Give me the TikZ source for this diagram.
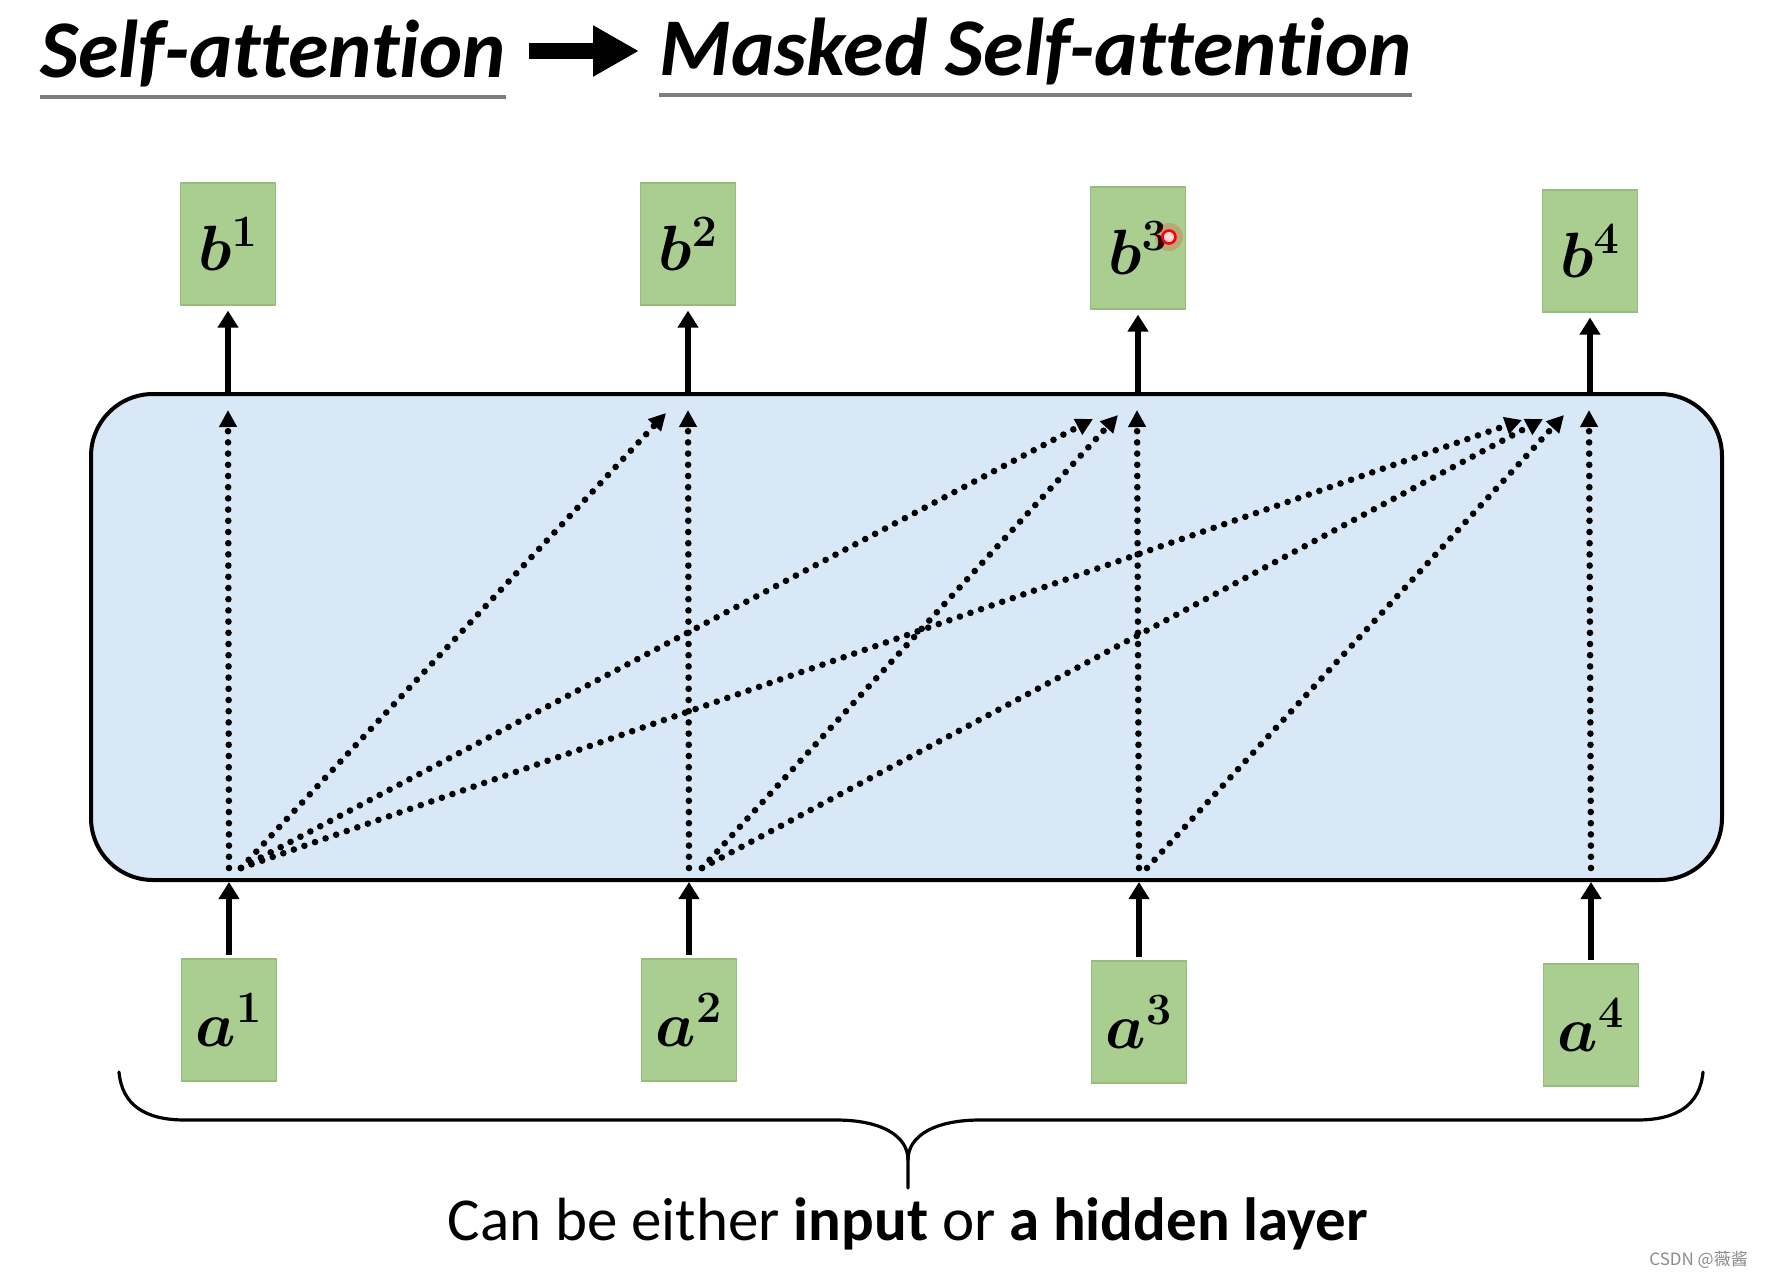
\RequirePackage{fix-cm}
\documentclass[tikz,border=0pt]{standalone}
\usepackage{amsmath,bm}
\usepackage{fontspec}
\newfontfamily\calib[Ligatures={NoCommon}]{Carlito}
\newfontfamily\cjk{Noto Sans CJK SC}
\usetikzlibrary{arrows.meta}
\definecolor{gfill}{RGB}{169,206,143}
\definecolor{gdraw}{RGB}{150,188,126}
\definecolor{bluefill}{RGB}{216,232,246}
\definecolor{ulgray}{RGB}{125,125,125}
\definecolor{wmgray}{RGB}{140,140,140}
\begin{document}
\begin{tikzpicture}[x=0.5pt,y=-0.5pt,
  ttl/.style={font=\calib\bfseries\itshape\fontsize{41}{45}\selectfont, inner sep=0pt},
  uline/.style={draw=ulgray, line width=2pt},
  bigarrow/.style={line width=8pt, -{Triangle[length=23pt,width=24pt]}},
  gbox/.style={rectangle, fill=gfill, draw=gdraw, line width=0.6pt, minimum width=47.5pt, minimum height=61pt, inner sep=0pt, font=\fontsize{32}{36}\selectfont},
  bigbox/.style={rectangle, draw=black, fill=bluefill, line width=2pt, rounded corners=31pt, minimum width=815.5pt, minimum height=243pt},
  sarrow/.style={line width=2.6pt, -{Triangle[length=8.5pt,width=10pt]}},
  darrow/.style={line width=3.3pt, dash pattern=on 0pt off 5.6pt, line cap=round, -{Triangle[length=8.5pt,width=8.5pt]}},
  bracepath/.style={line width=1.6pt, line cap=round},
]
\useasboundingbox (0,0) rectangle (1774,1280);
\fill[white] (0,0) rectangle (1774,1280);

% titles
\node[ttl, anchor=base west] (t1) at (40,77) {Self-attention};
\node[ttl, anchor=base west] (t2) at (659,75) {Masked Self-attention};
\draw[uline] ([yshift=-10pt]t1.base west) -- ([yshift=-10pt]t1.base east);
\draw[uline] ([yshift=-10pt]t2.base west) -- ([yshift=-10pt]t2.base east);
\coordinate (ta) at (529,51);
\coordinate (tb) at (639,51);
\draw[bigarrow] (ta) -- (tb);

% big box
\node[bigbox] (box) at (906.5,637) {};

% output boxes
\node[gbox] (b1) at (228,244) {$\bm{b}^{\bm{1}}$};
\node[gbox] (b2) at (688,244) {$\bm{b}^{\bm{2}}$};
\node[gbox] (b3) at (1138,248) {$\bm{b}^{\bm{3}}$};
\node[gbox] (b4) at (1590,251) {$\bm{b}^{\bm{4}}$};

% input boxes
\node[gbox] (a1) at (229,1020) {$\bm{a}^{\bm{1}}$};
\node[gbox] (a2) at (689,1020) {$\bm{a}^{\bm{2}}$};
\node[gbox] (a3) at (1139,1022) {$\bm{a}^{\bm{3}}$};
\node[gbox] (a4) at (1591,1025) {$\bm{a}^{\bm{4}}$};

% solid arrows
\foreach \i in {1,2,3,4}{
  \draw[sarrow, shorten >=2.5pt] (b\i.south |- box.north) -- (b\i.south);
  \draw[sarrow, shorten <=1.5pt] (a\i.north) -- (a\i.north |- box.south);
}

% dotted start / end coordinates
\coordinate (s1) at (229,868);
\coordinate (s2) at (689,868);
\coordinate (s3) at (1139,868);
\coordinate (s4) at (1591,868);
\coordinate (e1) at (228,410);
\coordinate (e2) at (688,410);
\coordinate (e3) at (1137,410);
\coordinate (e4) at (1589,410);
\coordinate (d1) at (241,868);
\coordinate (d2) at (702,868);
\coordinate (d3) at (1147,868);
\coordinate (h12) at (666,413);
\coordinate (h13) at (1093,419);
\coordinate (h23) at (1118,415);
\coordinate (h14) at (1522,420);
\coordinate (h24) at (1543,419);
\coordinate (h34) at (1564,415);

\foreach \i in {1,2,3,4}{ \draw[darrow] (s\i) -- (e\i); }
\draw[darrow] (d1) -- (h12);
\draw[darrow] (d1) -- (h13);
\draw[darrow] (d1) -- (h14);
\draw[darrow] (d2) -- (h23);
\draw[darrow] (d2) -- (h24);
\draw[darrow] (d3) -- (h34);

% brace
\coordinate (brl) at (119,1072);
\coordinate (brr) at (1703,1072);
\coordinate (brtip) at (908,1188);
\draw[bracepath] (brl) .. controls (122,1105) and (145,1120) .. (185,1120) -- (836,1120) .. controls (880,1120) and (908,1135) .. (908,1160) -- (brtip);
\draw[bracepath] (brr) .. controls (1700,1105) and (1677,1120) .. (1637,1120) -- (980,1120) .. controls (936,1120) and (908,1135) .. (908,1160);

% caption
\node[anchor=base, inner sep=0pt, font=\calib\fontsize{30.5}{34}\selectfont] (cap) at (908,1240) {Can be either \textbf{input} or \textbf{a hidden layer}};

% watermark
\node[anchor=base west, inner sep=0pt, text=wmgray, font=\cjk\fontsize{8.5}{10}\selectfont] (wm) at (1649,1265) {CSDN @薇酱};

% pointer
\fill[red, opacity=0.18] (1169,237) circle (7pt);
\node[circle, draw=red, fill=red!15, line width=1.3pt, minimum size=6.5pt, inner sep=0pt] (ptr) at (1169,237) {};
\end{tikzpicture}
\end{document}
